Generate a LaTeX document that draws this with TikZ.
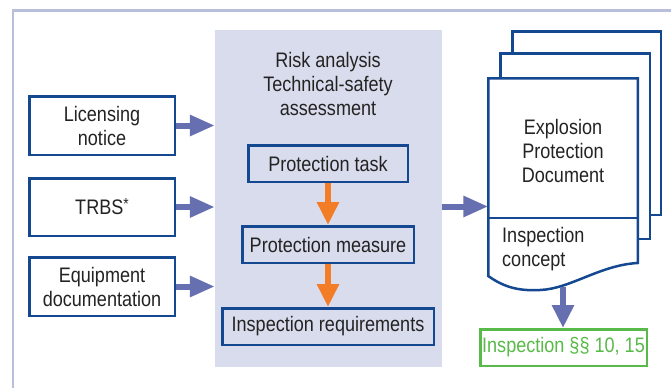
\documentclass[tikz,border=0pt]{standalone}
\usepackage{fontspec}
\setmainfont[FakeStretch=0.86]{Liberation Sans}
\usetikzlibrary{arrows.meta}
\definecolor{framecol}{RGB}{185,190,221}
\definecolor{panelcol}{RGB}{217,220,236}
\definecolor{boxblue}{RGB}{20,72,145}
\definecolor{arrowblue}{RGB}{102,112,176}
\definecolor{arroworange}{RGB}{242,125,38}
\definecolor{inspgreen}{RGB}{88,186,72}
\definecolor{textgrey}{RGB}{35,35,35}
\tikzset{
  txt/.style={font=\fontsize{21}{24}\selectfont, text=textgrey, align=center, inner sep=0pt},
  inbox/.style={txt, draw=boxblue, line width=2.5pt, fill=white},
  stepbox/.style={txt, draw=boxblue, line width=2.5pt, fill=panelcol},
  sheet/.style={draw=boxblue, line width=2.5pt, fill=white},
  feed/.style={draw=arrowblue, line width=6pt, -{Triangle[length=25pt,width=20pt]}},
  flow/.style={draw=arroworange, line width=6pt, -{Triangle[length=23pt,width=21pt]}},
}
\begin{document}
\begin{tikzpicture}[x=1pt, y=-1pt]
\useasboundingbox (0,0) rectangle (671,388);
% frame lines along the top and left edges
\draw[framecol, line width=2.5pt] (671,10.5) -- (12.9,10.5) -- (12.9,388);

% analysis panel
\node[fill=panelcol, minimum width=227pt, minimum height=337pt, inner sep=0pt] (panel) at (328.5,198.5) {};
\node[txt] (title) at (328,84) {Risk analysis\\Technical-safety\\assessment};
\node[stepbox, minimum width=159.5pt, minimum height=36.5pt] (ptask) at (328,163.5) {Protection task};
\node[stepbox, minimum width=171.5pt, minimum height=36.5pt] (pmeas) at (328,244.5) {Protection measure};
\node[stepbox, minimum width=211.5pt, minimum height=36.5pt] (ireq) at (328,326.5) {Inspection requirements};
\draw[flow] (ptask.south) -- (pmeas.north);
\draw[flow] (pmeas.south) -- (ireq.north);

% input sources
\node[inbox, minimum width=145.5pt, minimum height=58.5pt] (lic) at (102,125.5) {Licensing\\notice};
\node[inbox, minimum width=145.5pt, minimum height=57.5pt] (trbs) at (102,207) {TRBS\raisebox{5pt}{\fontsize{16}{16}\selectfont *}};
\node[inbox, minimum width=145.5pt, minimum height=58.5pt] (equip) at (102,286.5) {Equipment\\documentation};
\draw[feed] (lic.east) -- (lic.east -| panel.west);
\draw[feed] (trbs.east) -- (trbs.east -| panel.west);
\draw[feed] (equip.east) -- (equip.east -| panel.west);

% document stack
\path[sheet] (512.25,31.25) rectangle (660.75,214.75);
\path[sheet] (500.25,53.25) rectangle (649.75,238.75);
\path[sheet] (488.25,78.25) -- (637.75,78.25) -- (637.75,263)
  .. controls (600,265) and (570,289) .. (540,290)
  .. controls (520,291) and (505,288) .. (488.25,276) -- cycle;
\draw[boxblue, line width=2.5pt] (488.25,218) -- (637.75,218);
\node[txt] (epd) at (563,151) {Explosion\\Protection\\Document};
\node[txt, align=left, anchor=west] (concept) at (502,249.5) {Inspection\\concept};
\coordinate (docin) at (488.25,206.5);
\coordinate (docout) at (563,287);
\draw[feed] (panel.east |- docin) -- (docin);

% legal inspection
\node[txt, text=inspgreen, draw=inspgreen, line width=2.5pt, fill=white,
      minimum width=166.5pt, minimum height=36.5pt] (insp) at (563.5,347.5) {Inspection §§ 10, 15};
\draw[feed, -{Triangle[length=23pt,width=21pt]}] (docout) -- (docout |- insp.north);
\end{tikzpicture}
\end{document}
